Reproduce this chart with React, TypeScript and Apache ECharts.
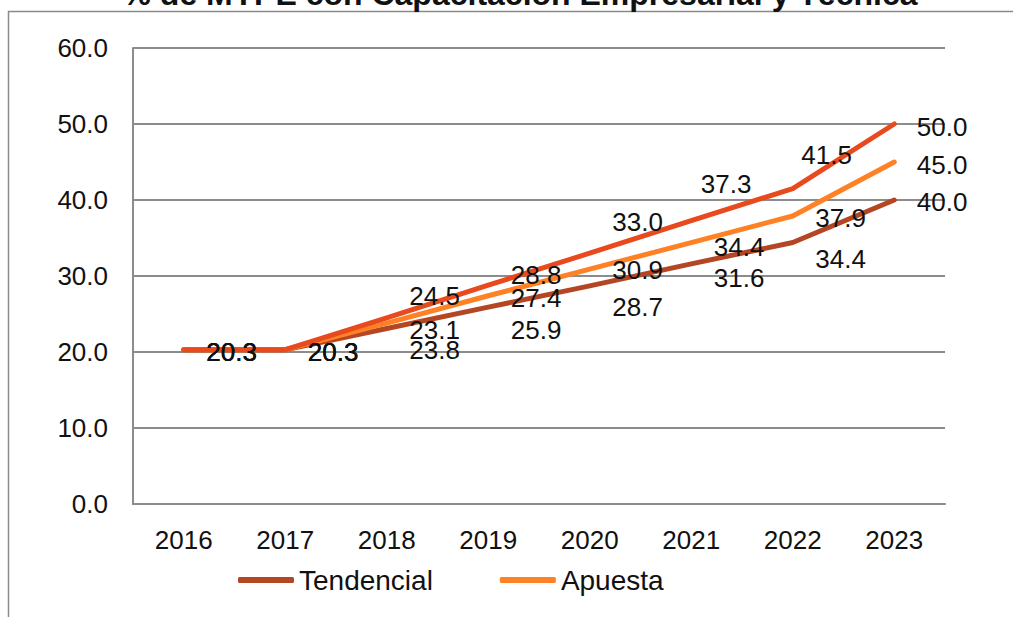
import React, { useEffect, useRef } from "react";
import * as echarts from "echarts";

const categories = ["2016", "2017", "2018", "2019", "2020", "2021", "2022", "2023"];
const tendencial = [20.3, 20.3, 23.1, 25.9, 28.7, 31.6, 34.4, 40.0];
const apuesta = [20.3, 20.3, 23.8, 27.4, 30.9, 34.4, 37.9, 45.0];
const meta = [20.3, 20.3, 24.5, 28.8, 33.0, 37.3, 41.5, 50.0];
const yTicks = { min: 0, max: 60, interval: 10 };

// label offsets (manually placed labels in the original)
const tendencialOffsets = [[0, 2], [0, 2], [0, 2], [0, 23], [0, 21], [0, 14], [0, 16], [0, 2]];
const apuestaOffsets = [[0, 2], [0, 2], [0, 27], [0, 2], [0, 1], [0, 4], [0, 2], [0, 3]];
const metaOffsets = [[0, 2], [0, 2], [0, -22], [0, -10], [0, -31], [-13, -37], [-14, -34], [0, 3]];

const FONT = "'Liberation Sans', Arial, sans-serif";
const TEXT = "#111111";

function buildData(values: number[], offsets: number[][]) {
  return values.map((v, i) => ({ value: v, label: { offset: offsets[i] } }));
}

function lineSeries(name: string, values: number[], offsets: number[][], color: string) {
  return {
    name,
    type: "line",
    data: buildData(values, offsets),
    symbol: "circle",
    symbolSize: 1,
    showSymbol: true,
    itemStyle: { color },
    lineStyle: { color, width: 5, cap: "round", join: "round" },
    label: {
      show: true,
      position: "right",
      distance: 22,
      color: TEXT,
      fontFamily: FONT,
      fontSize: 26,
      formatter: (p: any) => Number(p.value).toFixed(1),
    },
    emphasis: { disabled: true },
  };
}

export default function App() {
  const ref = useRef<HTMLDivElement>(null);
  useEffect(() => {
    document.body.style.margin = "0";
    const chart = echarts.init(ref.current!, null, { renderer: "svg" });
    chart.setOption({
      animation: false,
      backgroundColor: "#ffffff",
      grid: { left: 133, right: 68, top: 48, bottom: 113, containLabel: false },
      legend: {
        data: ["Tendencial", "Apuesta"],
        left: 233,
        top: 561,
        icon: "roundRect",
        itemWidth: 56,
        itemHeight: 6,
        itemGap: 67,
        textStyle: { color: TEXT, fontFamily: FONT, fontSize: 28 },
      },
      xAxis: {
        type: "category",
        data: categories,
        boundaryGap: true,
        axisTick: { show: false },
        axisLine: { show: true, lineStyle: { color: "#8c8c8c", width: 2 } },
        axisLabel: { color: TEXT, fontFamily: FONT, fontSize: 26, margin: 23 },
      },
      yAxis: {
        type: "value",
        min: yTicks.min,
        max: yTicks.max,
        interval: yTicks.interval,
        axisLine: { show: true, lineStyle: { color: "#8c8c8c", width: 2 } },
        axisTick: { show: false },
        splitLine: { show: true, lineStyle: { color: "#8c8c8c", width: 2 } },
        axisLabel: {
          color: TEXT,
          fontFamily: FONT,
          fontSize: 26,
          margin: 25,
          formatter: (v: number) => v.toFixed(1),
        },
      },
      series: [
        lineSeries("Tendencial", tendencial, tendencialOffsets, "#B54623"),
        lineSeries("Apuesta", apuesta, apuestaOffsets, "#FF8125"),
        lineSeries("Meta", meta, metaOffsets, "#E84A1E"),
      ],
      graphic: [
        {
          type: "line",
          shape: { x1: 8.5, y1: 11, x2: 8.5, y2: 617 },
          style: { stroke: "#8a8a8a", lineWidth: 1.5 },
          silent: true,
        },
        {
          type: "line",
          shape: { x1: 8, y1: 11.5, x2: 1013, y2: 11.5 },
          style: { stroke: "#8a8a8a", lineWidth: 1.5 },
          silent: true,
        },
        {
          type: "text",
          x: 520,
          y: -6,
          style: {
            text: "% de MYPE con Capacitación Empresarial y Técnica",
            font: "bold 32px 'Liberation Sans', Arial, sans-serif",
            fill: TEXT,
            textAlign: "center",
            textVerticalAlign: "middle",
          },
          silent: true,
        },
      ],
    });
    return () => chart.dispose();
  }, []);
  return <div ref={ref} style={{ width: 1013, height: 617 }} />;
}
